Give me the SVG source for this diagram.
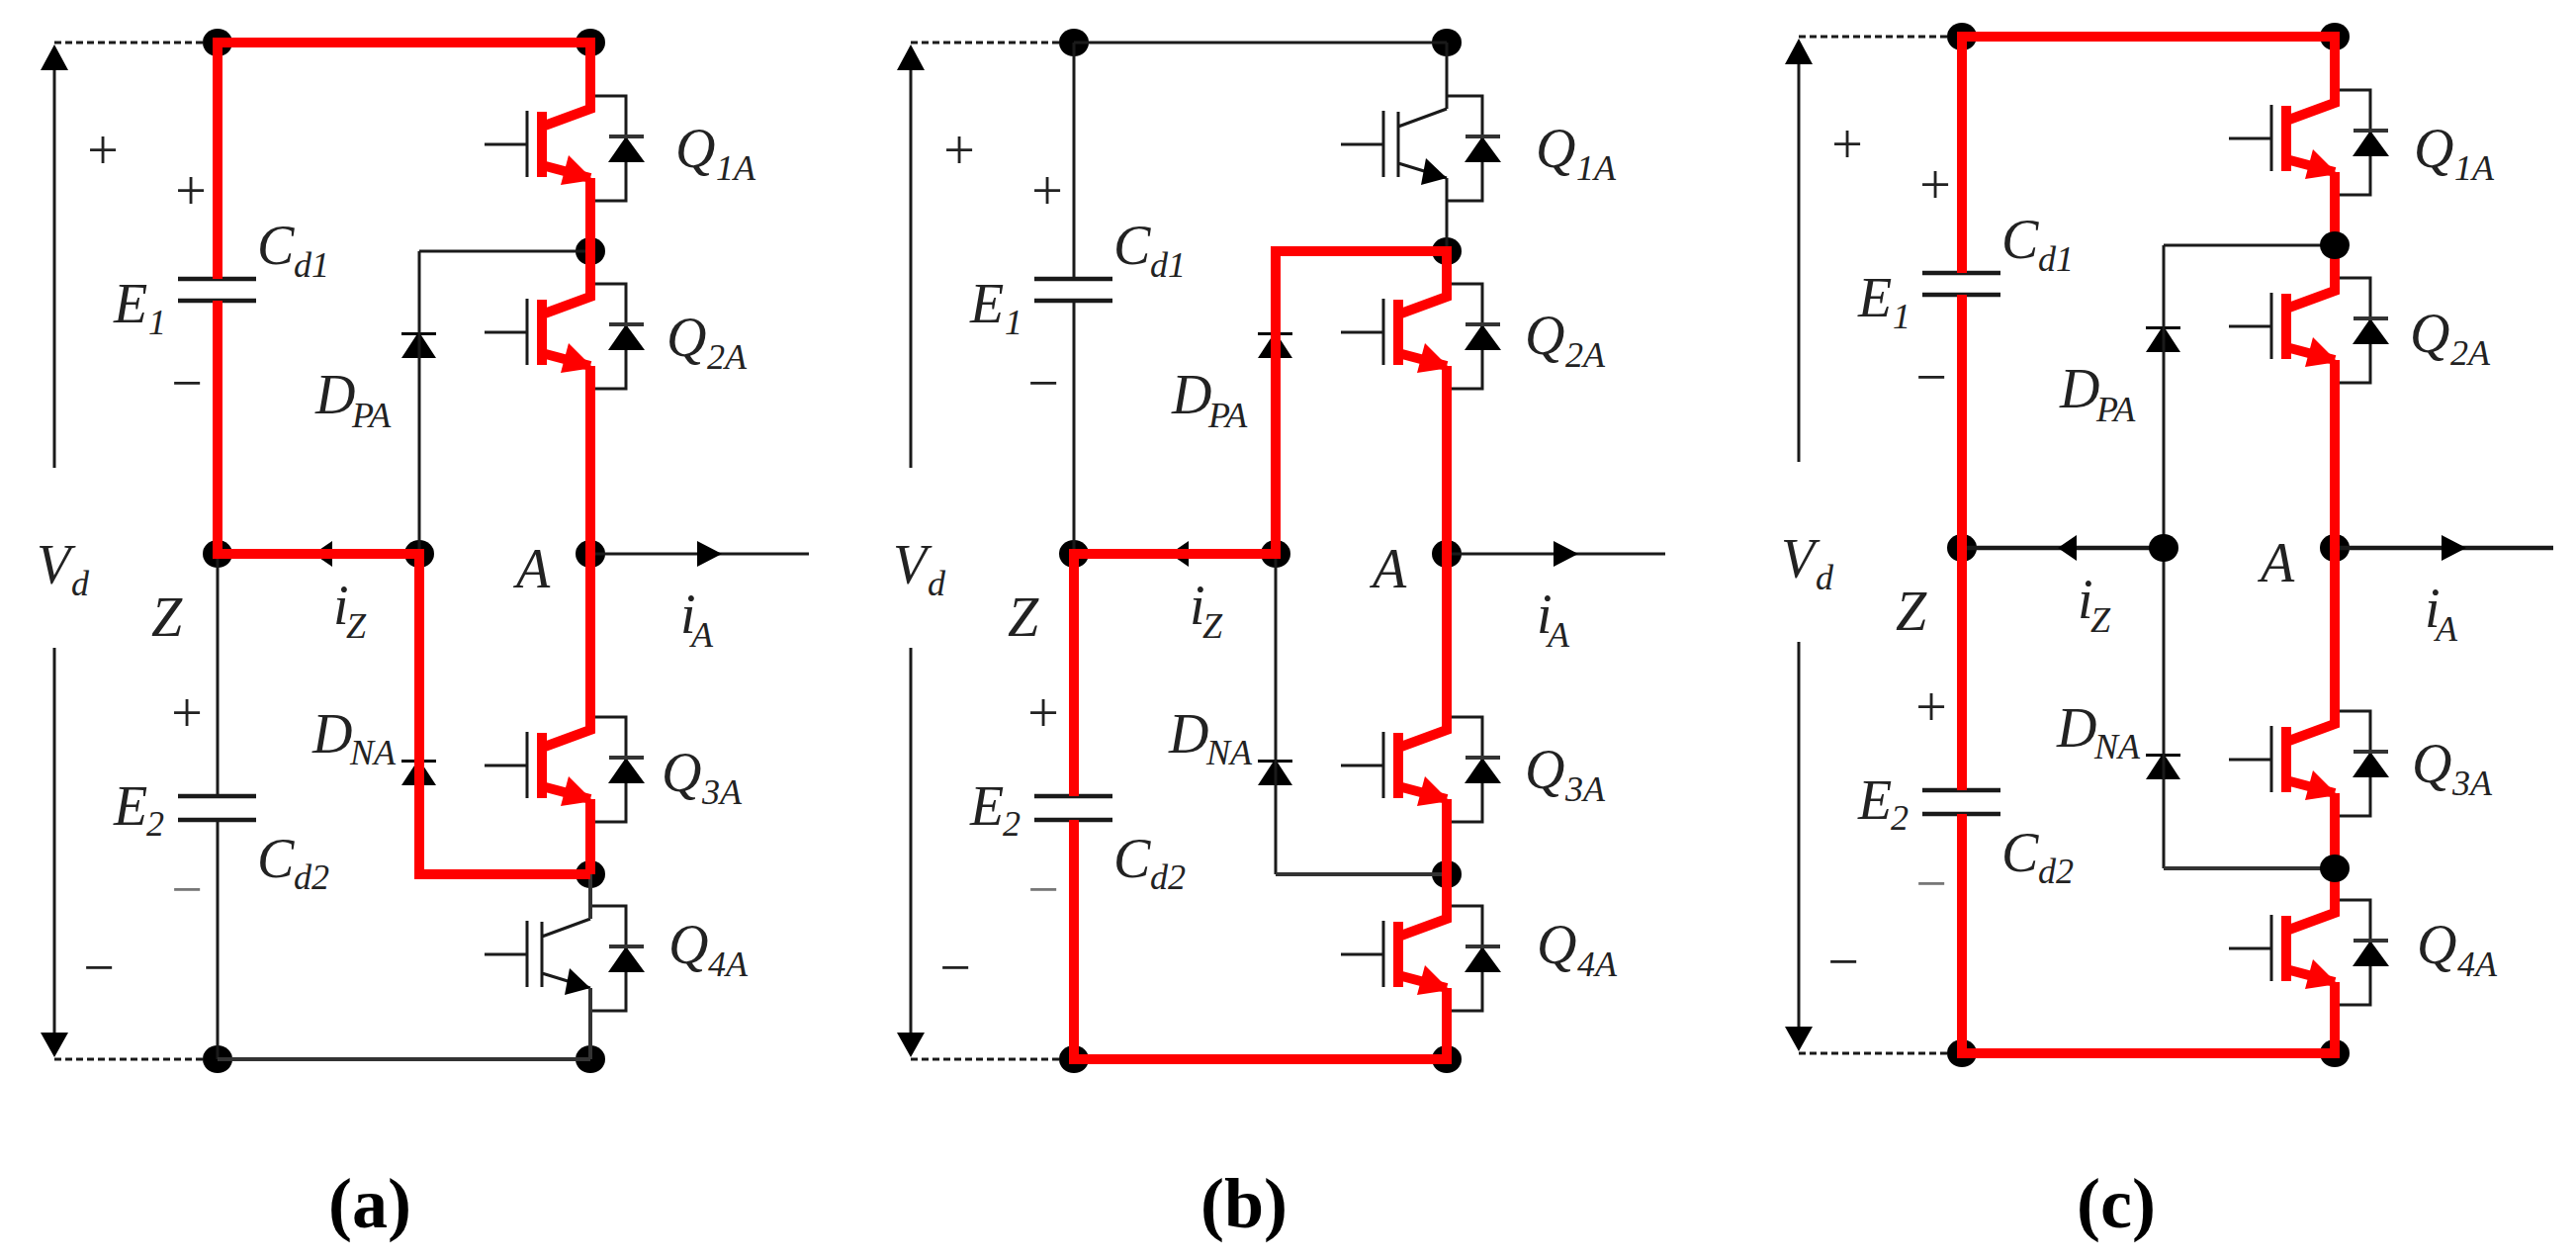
<svg xmlns="http://www.w3.org/2000/svg" xmlns:xlink="http://www.w3.org/1999/xlink" width="2605" height="1274" viewBox="0 0 2605 1274">
<style>
.w{fill:none;stroke:#1a1a1a;stroke-width:3}
.wt{fill:none;stroke:#1a1a1a;stroke-width:4.5}
.r{fill:none;stroke:#ff0000;stroke-width:10;stroke-linejoin:miter}
.rf{fill:#ff0000}
.k{fill:#000}
.d{fill:none;stroke:#1a1a1a;stroke-width:3;stroke-dasharray:7 4}
.p{fill:none;stroke:#333;stroke-width:4}
text{font-family:"Liberation Serif","Times New Roman",serif;fill:#222}
.t{font-size:56px;font-style:italic}
.s{font-size:36px;font-style:italic}
.o{font-size:56px;text-anchor:middle}
.c{font-size:72px;font-weight:bold;text-anchor:middle;fill:#000}
</style>
<defs>
<g id="sw"><path class="w" d="M490 146H533M533 112V179M597 97H633V203H597M633 97V138M633 164V203"/><path class="k" d="M615 164L633 138L652 164Z"/><path class="p" d="M616 138H651"/></g>
<g id="off"><path class="w" d="M548 113V179M548 128L597 110M548 165L597 180"/><path class="k" d="M576 160L597 180L571 187Z"/></g>
<g id="on"><path class="r" d="M548 113V179M597 108V110L548 128M548 167L597 180"/><path class="rf" d="M575 157L600 182L567 187Z"/></g>
<ellipse id="n" rx="15" ry="14" class="k"/>
<path id="dio" class="k" d="M406 0H441V3H426L441 26H406L421 3H406Z"/>
</defs>
<g id="panel-a">
<g id="a-nodes"><use id="a-n1" href="#n" x="220" y="43"/><use id="a-n2" href="#n" x="597" y="43"/><use id="a-n3" href="#n" x="597" y="254"/><use id="a-n4" href="#n" x="220" y="560"/><use id="a-n5" href="#n" x="424" y="560"/><use id="a-n6" href="#n" x="597" y="560"/><use id="a-n7" href="#n" x="597" y="884"/><use id="a-n8" href="#n" x="220" y="1071"/><use id="a-n9" href="#n" x="597" y="1071"/></g>
<g id="a-parts">
<g id="a-Q1"><use href="#sw"/><use href="#on"/></g>
<g id="a-Q2"><use href="#sw" y="190"/><use href="#on" y="190"/></g>
<g id="a-Q3"><use href="#sw" y="628"/><use href="#on" y="628"/></g>
<g id="a-Q4"><use href="#sw" y="819"/><use href="#off" y="819"/></g>
<g id="a-DPA"><use href="#dio" y="336"/></g>
<g id="a-DNA"><use href="#dio" y="768"/></g>
<g id="a-Cd1"><path class="wt" d="M180 282H259M180 304H259"/></g>
<g id="a-Cd2"><path class="wt" d="M180 805H259M180 829H259"/></g>
</g>
<g id="a-connectors">
<path class="d" d="M55 43H205M55 1071H205"/>
<path class="w" d="M55 71V473M55 655V1044M597 560H818M424 254H597M424 254V560M220 560V805M220 829V1071"/>
<path class="p" d="M220 1071H597M597 884V929M597 999V1071"/>
<path class="k" d="M41 71L55 45L69 71ZM41 1044L55 1069L69 1044ZM705 547L730 560L705 573ZM336 547L317 560L336 573Z"/>
<path class="r" d="M220 282V43H597V110M220 304V560H424V884H597M597 180V300M597 370V738M597 808V884"/>
</g>
<g id="a-labels">
<text class="o" x="104" y="171">+</text><text class="o" x="193" y="212">+</text><text class="o" x="189" y="406">−</text><text class="o" x="189" y="740">+</text><text class="o" x="189" y="918" style="fill:#777">−</text><text class="o" x="100" y="997">−</text>
<text class="t" x="37" y="590">V</text><text class="s" x="72" y="602">d</text>
<text class="t" x="115" y="326">E</text><text class="s" x="150" y="338">1</text>
<text class="t" x="115" y="834">E</text><text class="s" x="148" y="845">2</text>
<text class="t" x="260" y="267">C</text><text class="s" x="297" y="280">d1</text>
<text class="t" x="260" y="887">C</text><text class="s" x="297" y="899">d2</text>
<text class="t" x="319" y="418">D</text><text class="s" x="356" y="432">PA</text>
<text class="t" x="316" y="761">D</text><text class="s" x="354" y="773">NA</text>
<text class="t" x="153" y="643">Z</text>
<text class="t" x="337" y="631">i</text><text class="s" x="350" y="645">Z</text>
<text class="t" x="522" y="594">A</text>
<text class="t" x="688" y="640">i</text><text class="s" x="699" y="654">A</text>
<text class="t" x="683" y="169">Q</text><text class="s" x="724" y="182">1A</text>
<text class="t" x="674" y="360">Q</text><text class="s" x="715" y="373">2A</text>
<text class="t" x="669" y="800">Q</text><text class="s" x="710" y="813">3A</text>
<text class="t" x="676" y="974">Q</text><text class="s" x="716" y="987">4A</text>
<text class="c" x="374" y="1241">(a)</text>
</g>
</g>
<g id="panel-b" transform="translate(866 0)">
<g id="b-nodes"><use id="b-n1" href="#n" x="220" y="43"/><use id="b-n2" href="#n" x="597" y="43"/><use id="b-n3" href="#n" x="597" y="254"/><use id="b-n4" href="#n" x="220" y="560"/><use id="b-n5" href="#n" x="424" y="560"/><use id="b-n6" href="#n" x="597" y="560"/><use id="b-n7" href="#n" x="597" y="884"/><use id="b-n8" href="#n" x="220" y="1071"/><use id="b-n9" href="#n" x="597" y="1071"/></g>
<g id="b-parts">
<g id="b-Q1"><use href="#sw"/><use href="#off"/></g>
<g id="b-Q2"><use href="#sw" y="190"/><use href="#on" y="190"/></g>
<g id="b-Q3"><use href="#sw" y="628"/><use href="#on" y="628"/></g>
<g id="b-Q4"><use href="#sw" y="819"/><use href="#on" y="819"/></g>
<g id="b-DPA"><use href="#dio" y="336"/></g>
<g id="b-DNA"><use href="#dio" y="768"/></g>
<g id="b-Cd1"><path class="wt" d="M180 282H259M180 304H259"/></g>
<g id="b-Cd2"><path class="wt" d="M180 805H259M180 829H259"/></g>
</g>
<g id="b-connectors">
<path class="d" d="M55 43H205M55 1071H205"/>
<path class="w" d="M55 71V473M55 655V1044M597 560H818M220 43H597M597 43V110M597 180V254M220 43V282M220 304V560M424 560V884"/>
<path class="p" d="M424 884H597"/>
<path class="k" d="M41 71L55 45L69 71ZM41 1044L55 1069L69 1044ZM705 547L730 560L705 573ZM336 547L317 560L336 573Z"/>
<path class="r" d="M597 300V254H424V560H220V805M220 829V1071H597V999M597 370V738M597 808V929"/>
</g>
<g id="b-labels">
<text class="o" x="104" y="171">+</text><text class="o" x="193" y="212">+</text><text class="o" x="189" y="406">−</text><text class="o" x="189" y="740">+</text><text class="o" x="189" y="918" style="fill:#777">−</text><text class="o" x="100" y="997">−</text>
<text class="t" x="37" y="590">V</text><text class="s" x="72" y="602">d</text>
<text class="t" x="115" y="326">E</text><text class="s" x="150" y="338">1</text>
<text class="t" x="115" y="834">E</text><text class="s" x="148" y="845">2</text>
<text class="t" x="260" y="267">C</text><text class="s" x="297" y="280">d1</text>
<text class="t" x="260" y="887">C</text><text class="s" x="297" y="899">d2</text>
<text class="t" x="319" y="418">D</text><text class="s" x="356" y="432">PA</text>
<text class="t" x="316" y="761">D</text><text class="s" x="354" y="773">NA</text>
<text class="t" x="153" y="643">Z</text>
<text class="t" x="337" y="631">i</text><text class="s" x="350" y="645">Z</text>
<text class="t" x="522" y="594">A</text>
<text class="t" x="688" y="640">i</text><text class="s" x="699" y="654">A</text>
<text class="t" x="687" y="169">Q</text><text class="s" x="728" y="182">1A</text>
<text class="t" x="676" y="358">Q</text><text class="s" x="717" y="371">2A</text>
<text class="t" x="676" y="797">Q</text><text class="s" x="717" y="810">3A</text>
<text class="t" x="688" y="974">Q</text><text class="s" x="729" y="987">4A</text>
<text class="c" x="392" y="1241">(b)</text>
</g>
</g>
<g id="panel-c" transform="translate(1764 -6)">
<g id="c-nodes"><use id="c-n1" href="#n" x="220" y="43"/><use id="c-n2" href="#n" x="597" y="43"/><use id="c-n4" href="#n" x="220" y="560"/><use id="c-n6" href="#n" x="597" y="560"/><use id="c-n8" href="#n" x="220" y="1071"/><use id="c-n9" href="#n" x="597" y="1071"/></g>
<g id="c-parts">
<g id="c-Q1"><use href="#sw"/><use href="#on"/></g>
<g id="c-Q2"><use href="#sw" y="190"/><use href="#on" y="190"/></g>
<g id="c-Q3"><use href="#sw" y="628"/><use href="#on" y="628"/></g>
<g id="c-Q4"><use href="#sw" y="819"/><use href="#on" y="819"/></g>
<g id="c-DPA"><use href="#dio" y="336"/></g>
<g id="c-DNA"><use href="#dio" y="768"/></g>
<g id="c-Cd1"><path class="wt" d="M180 282H259M180 304H259"/></g>
<g id="c-Cd2"><path class="wt" d="M180 805H259M180 829H259"/></g>
</g>
<g id="c-connectors">
<path class="d" d="M55 43H205M55 1071H205"/>
<path class="w" d="M55 71V473M55 655V1044M424 254H597M424 254V884"/>
<path class="wt" d="M220 560H424M597 560H818"/>
<path class="p" d="M424 884H597"/>
<path class="k" d="M41 71L55 45L69 71ZM41 1044L55 1069L69 1044ZM705 547L730 560L705 573ZM336 547L317 560L336 573Z"/>
<path class="r" d="M220 282V43H597V110M220 304V805M220 829V1071H597V999M597 180V300M597 370V738M597 808V929"/>
</g>
<g id="c-top-nodes"><use id="c-n3" href="#n" x="597" y="254"/><use id="c-n5" href="#n" x="424" y="560"/><use id="c-n7" href="#n" x="597" y="884"/></g>
<g id="c-labels">
<text class="o" x="104" y="171">+</text><text class="o" x="193" y="212">+</text><text class="o" x="189" y="406">−</text><text class="o" x="189" y="740">+</text><text class="o" x="189" y="918" style="fill:#777">−</text><text class="o" x="100" y="997">−</text>
<text class="t" x="37" y="590">V</text><text class="s" x="72" y="602">d</text>
<text class="t" x="115" y="326">E</text><text class="s" x="150" y="338">1</text>
<text class="t" x="115" y="834">E</text><text class="s" x="148" y="845">2</text>
<text class="t" x="260" y="267">C</text><text class="s" x="297" y="280">d1</text>
<text class="t" x="260" y="887">C</text><text class="s" x="297" y="899">d2</text>
<text class="t" x="319" y="418">D</text><text class="s" x="356" y="432">PA</text>
<text class="t" x="316" y="761">D</text><text class="s" x="354" y="773">NA</text>
<text class="t" x="153" y="643">Z</text>
<text class="t" x="337" y="631">i</text><text class="s" x="350" y="645">Z</text>
<text class="t" x="522" y="594">A</text>
<text class="t" x="688" y="640">i</text><text class="s" x="699" y="654">A</text>
<text class="t" x="677" y="175">Q</text><text class="s" x="718" y="188">1A</text>
<text class="t" x="673" y="362">Q</text><text class="s" x="714" y="375">2A</text>
<text class="t" x="675" y="797">Q</text><text class="s" x="716" y="810">3A</text>
<text class="t" x="680" y="980">Q</text><text class="s" x="721" y="993">4A</text>
<text class="c" x="376" y="1247">(c)</text>
</g>
</g>
</svg>
